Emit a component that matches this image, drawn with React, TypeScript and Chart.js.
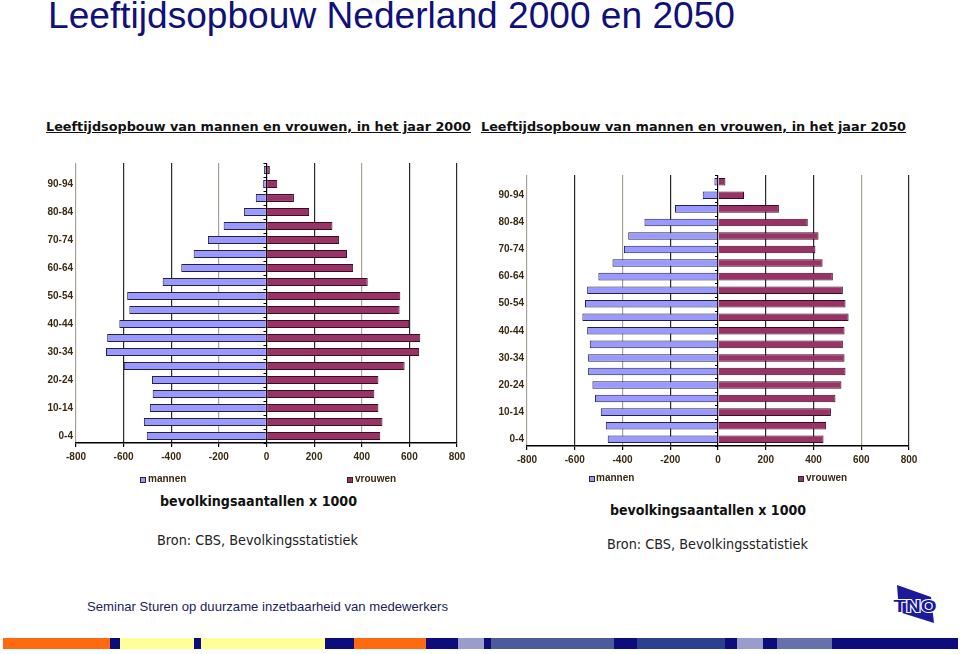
import React, { useEffect, useLayoutEffect, useRef } from "react";
import { Chart, registerables } from "chart.js";

Chart.register(...registerables);

// ---------- Data ----------
const AGE_GROUPS = [
  "0-4", "5-9", "10-14", "15-19", "20-24", "25-29", "30-34", "35-39", "40-44", "45-49",
  "50-54", "55-59", "60-64", "65-69", "70-74", "75-79", "80-84", "85-89", "90-94", "95+",
];
// population x 1000, from 0-4 upwards
const MEN_2000 = [503, 515, 490, 478, 481, 599, 674, 669, 618, 576, 585, 436, 358, 306, 246, 180, 95, 45, 14, 11];
const WOMEN_2000 = [478, 487, 470, 453, 470, 580, 641, 646, 599, 559, 562, 425, 364, 338, 305, 277, 179, 115, 45, 14];
const MEN_2050 = [462, 470, 491, 515, 526, 544, 544, 537, 548, 568, 557, 548, 501, 442, 394, 376, 308, 180, 64, 15];
const WOMEN_2050 = [442, 453, 473, 492, 517, 534, 530, 523, 530, 547, 534, 523, 481, 438, 408, 421, 376, 255, 109, 31];
const X_MIN = -800;
const X_MAX = 800;
const X_STEP = 200;

const TITLE = "Leeftijdsopbouw Nederland 2000 en 2050";
const HEAD_2000 = "Leeftijdsopbouw van mannen en vrouwen, in het jaar 2000";
const HEAD_2050 = "Leeftijdsopbouw van mannen en vrouwen, in het jaar 2050";
const AXIS_NOTE = "bevolkingsaantallen x 1000";
const SOURCE = "Bron: CBS, Bevolkingsstatistiek";
const FOOTER = "Seminar Sturen op duurzame inzetbaarheid van medewerkers";
const SERIES_MEN = "mannen";
const SERIES_WOMEN = "vrouwen";

const TICK_COLOR = "#3a2a12";
const MEN_COLOR = "#9999ff";
const WOMEN_COLOR = "#993366";

// ---------- Helpers ----------
type FitProps = {
  left: number;
  baseline: number;
  width?: number;
  size: number;
  family: string;
  weight?: string;
  color?: string;
  underline?: boolean;
  text: string;
};

function FitText({ left, baseline, width, size, family, weight = "normal", color = "#000", underline = false, text }: FitProps) {
  const ref = useRef<HTMLSpanElement>(null);
  useLayoutEffect(() => {
    const fit = () => {
      const el = ref.current;
      if (!el || !width) return;
      el.style.transform = "none";
      const w = el.getBoundingClientRect().width;
      if (w > 0) el.style.transform = `scaleX(${width / w})`;
    };
    fit();
    if ((document as any).fonts && (document as any).fonts.ready) {
      (document as any).fonts.ready.then(fit);
    }
  }, [width, text, size, family, weight]);
  return (
    <span
      ref={ref}
      style={{
        position: "absolute",
        left,
        top: baseline - 0.846 * size,
        fontSize: size,
        lineHeight: `${size}px`,
        fontFamily: family,
        fontWeight: weight as any,
        color,
        whiteSpace: "nowrap",
        transformOrigin: "0 0",
        textDecoration: underline ? "underline" : "none",
      }}
    >
      {text}
    </span>
  );
}

type PyramidProps = {
  men: number[];
  women: number[];
  left: number;
  top: number;
  width: number;
  height: number;
  yWidth: number;
  xHeight: number;
  pad: { left: number; top: number; right: number; bottom: number };
  dashed: number[];
  barPct: number;
};

// small tick marks along the zero line at category boundaries
const zeroTicks = {
  id: "zeroTicks",
  afterDatasetsDraw(chart: any) {
    const { ctx, scales } = chart;
    const x0 = scales.x.getPixelForValue(0);
    const y = scales.y;
    const n = AGE_GROUPS.length;
    ctx.save();
    ctx.strokeStyle = "#000";
    ctx.lineWidth = 1;
    ctx.beginPath();
    for (let i = 0; i <= n; i++) {
      const yy = Math.round(y.top + ((y.bottom - y.top) * i) / n) + 0.5;
      ctx.moveTo(x0 - 3, yy);
      ctx.lineTo(x0, yy);
    }
    ctx.stroke();
    ctx.restore();
  },
};

function Pyramid({ men, women, left, top, width, height, yWidth, xHeight, pad, dashed, barPct }: PyramidProps) {
  const ref = useRef<HTMLCanvasElement>(null);
  useEffect(() => {
    if (!ref.current) return;
    const tickFont = { family: "'Liberation Sans', Arial, sans-serif", size: 10, weight: "bold" as const };
    const chart = new Chart(ref.current, {
      type: "bar",
      data: {
        labels: AGE_GROUPS,
        datasets: [
          {
            label: SERIES_MEN,
            data: men.map((v) => -v),
            backgroundColor: MEN_COLOR,
            borderColor: "#22223f",
            borderWidth: 1,
            barPercentage: barPct,
            categoryPercentage: 1,
          },
          {
            label: SERIES_WOMEN,
            data: women,
            backgroundColor: WOMEN_COLOR,
            borderColor: "#3a0c22",
            borderWidth: 1,
            barPercentage: barPct,
            categoryPercentage: 1,
          },
        ],
      },
      options: {
        indexAxis: "y",
        animation: false,
        responsive: false,
        maintainAspectRatio: false,
        layout: { padding: pad },
        plugins: { legend: { display: false }, tooltip: { enabled: false } },
        scales: {
          x: {
            stacked: true,
            min: X_MIN,
            max: X_MAX,
            ticks: {
              stepSize: X_STEP,
              autoSkip: false,
              maxRotation: 0,
              padding: 4,
              color: TICK_COLOR,
              font: tickFont,
              callback: (v: any) => String(v),
            },
            grid: {
              color: (ctx: any) => {
                const v = ctx.tick ? ctx.tick.value : 0;
                if (v === 0) return "#000";
                return dashed.includes(v) ? "#a8a498" : "#2a2a2a";
              },
              lineWidth: 1.2,
              tickLength: 4,
              tickColor: "#000",
            },
            border: { color: "#000", width: 1.5 },
            afterFit: (s: any) => {
              s.height = xHeight;
            },
          },
          y: {
            stacked: true,
            reverse: true,
            ticks: {
              autoSkip: false,
              padding: 3,
              color: TICK_COLOR,
              font: tickFont,
              callback: (v: any) => (Number(v) % 2 === 0 ? AGE_GROUPS[Number(v)] : ""),
            },
            grid: { display: false, drawTicks: false },
            border: { display: false },
            afterFit: (s: any) => {
              s.width = yWidth;
            },
          },
        },
      },
      plugins: [zeroTicks],
    });
    return () => chart.destroy();
  }, []);
  return (
    <canvas
      ref={ref}
      width={width}
      height={height}
      style={{ position: "absolute", left, top, width, height }}
    />
  );
}

function LegendItem({ left, y, color, text, textLeft }: { left: number; y: number; color: string; text: string; textLeft: number }) {
  return (
    <>
      <span
        style={{
          position: "absolute",
          left,
          top: y - 2.5,
          width: 4,
          height: 4,
          background: color,
          border: "0.8px solid #2a2a2a",
        }}
      />
      <FitText left={textLeft} baseline={y + 3.5} size={10} family="'Liberation Sans', Arial, sans-serif" weight="bold" color={TICK_COLOR} text={text} />
    </>
  );
}

const STRIP: [number, number, string][] = [
  [3, 110, "#ff6a10"],
  [110, 120, "#0c0c7c"],
  [120, 194, "#ffff99"],
  [194, 201, "#0c0c7c"],
  [201, 325, "#ffff99"],
  [325, 354, "#0c0c7c"],
  [354, 426, "#ff6a10"],
  [426, 458, "#0c0c7c"],
  [458, 484, "#9a9ccc"],
  [484, 491, "#0c0c7c"],
  [491, 614, "#4a5a9c"],
  [614, 637, "#0c0c7c"],
  [637, 725, "#2b408e"],
  [725, 737, "#0c0c7c"],
  [737, 763, "#9a9ccc"],
  [763, 777, "#0c0c7c"],
  [777, 832, "#6670aa"],
  [832, 958, "#0c0c7c"],
];

export default function App() {
  const dejavu = "'DejaVu Sans', Verdana, sans-serif";
  const arial = "'Liberation Sans', Arial, sans-serif";
  return (
    <div style={{ position: "absolute", left: 0, top: 0, width: 960, height: 654, background: "#fff", overflow: "hidden" }}>
      <FitText left={48} baseline={28} width={687} size={36} family={arial} color="#10107a" text={TITLE} />

      <FitText left={46} baseline={131} width={425} size={13} family={dejavu} weight="bold" color="#111" underline text={HEAD_2000} />
      <FitText left={481} baseline={131} width={425} size={13} family={dejavu} weight="bold" color="#111" underline text={HEAD_2050} />

      <Pyramid
        men={MEN_2000}
        women={WOMEN_2000}
        left={40}
        top={150}
        width={430}
        height={325}
        yWidth={36}
        xHeight={32}
        pad={{ left: 0, top: 13, right: 13, bottom: 0 }}
        dashed={[-800, -200, 400]}
        barPct={0.56}
      />
      <Pyramid
        men={MEN_2050}
        women={WOMEN_2050}
        left={480}
        top={165}
        width={445}
        height={310}
        yWidth={47}
        xHeight={29}
        pad={{ left: 0, top: 10, right: 16, bottom: 0 }}
        dashed={[-800, -400, 600]}
        barPct={0.56}
      />

      <LegendItem left={140} y={479} color={MEN_COLOR} text={SERIES_MEN} textLeft={148} />
      <LegendItem left={347} y={479} color={WOMEN_COLOR} text={SERIES_WOMEN} textLeft={355} />
      <LegendItem left={589} y={478} color={MEN_COLOR} text={SERIES_MEN} textLeft={596} />
      <LegendItem left={798} y={478} color={WOMEN_COLOR} text={SERIES_WOMEN} textLeft={806} />

      <FitText left={160} baseline={506} width={197} size={14} family={dejavu} weight="bold" color="#111" text={AXIS_NOTE} />
      <FitText left={157} baseline={545} width={201} size={14} family={dejavu} color="#222" text={SOURCE} />
      <FitText left={610} baseline={515} width={196} size={14} family={dejavu} weight="bold" color="#111" text={AXIS_NOTE} />
      <FitText left={607} baseline={549} width={201} size={14} family={dejavu} color="#222" text={SOURCE} />

      <FitText left={87} baseline={611} width={361} size={13} family={arial} color="#1c1c5c" text={FOOTER} />

      <svg style={{ position: "absolute", left: 888, top: 580, width: 56, height: 48 }} viewBox="888 580 56 48">
        <polygon points="897,585 931,597 934,623 899,612" fill="#1a1a9a" />
        <text
          x={915}
          y={612}
          textAnchor="middle"
          fontFamily="'Liberation Sans', Arial, sans-serif"
          fontWeight="bold"
          fontSize={17}
          fill="#1a1a9a"
          stroke="#ffffff"
          strokeWidth={2}
          paintOrder="stroke"
          transform="translate(915 605) scale(1.2 1) translate(-915 -605)"
        >
          TNO
        </text>
      </svg>

      {STRIP.map(([a, b, c], i) => (
        <div key={i} style={{ position: "absolute", left: a, top: 638, width: b - a, height: 11, background: c }} />
      ))}
    </div>
  );
}
